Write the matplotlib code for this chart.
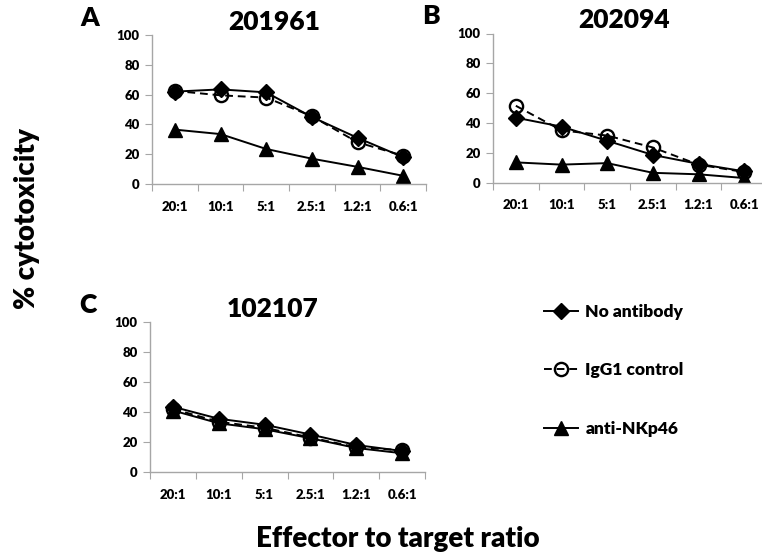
import numpy as np
import matplotlib
matplotlib.use("Agg")
import matplotlib.pyplot as plt
from matplotlib.lines import Line2D

plt.rcParams["font.family"] = ["Lato", "DejaVu Sans"]
plt.rcParams["font.weight"] = "heavy"

ratios = ["20:1", "10:1", "5:1", "2.5:1", "1.2:1", "0.6:1"]

# % cytotoxicity per donor
a_no_ab = [62, 63.5, 61.5, 45, 31, 18]
a_igg1 = [62.5, 59.5, 58, 45.5, 28, 19]
a_nkp46 = [36.5, 33.5, 23.5, 17, 11.5, 5.5]

b_no_ab = [43.5, 37.5, 28, 18.5, 12.5, 7.5]
b_igg1 = [51.5, 35, 31.5, 23.5, 12, 7]
b_nkp46 = [13.5, 12, 13, 6.5, 5.5, 3]

c_no_ab = [43.5, 35.5, 31.5, 25, 18, 14]
c_igg1 = [42, 33.5, 29.5, 23, 16.5, 14.5]
c_nkp46 = [41, 32.5, 28.5, 22.5, 16, 12.5]

# letter, title, series, axes box in pixels, title centre x
panels = [
    ("A", "201961", a_no_ab, a_igg1, a_nkp46, [152, 35, 426, 184], 274),
    ("B", "202094", b_no_ab, b_igg1, b_nkp46, [493, 33.5, 767, 182.5], 624),
    ("C", "102107", c_no_ab, c_igg1, c_nkp46, [150, 322, 425, 472], 273),
]

W, H = 762, 555
fig = plt.figure(figsize=(W / 100, H / 100), dpi=100)
spine_col = "#a6a6a6"
x = np.arange(len(ratios))

for letter, title, no_ab, igg1, nkp46, box, tx in panels:
    x0, y0, x1, y1 = box
    ax = fig.add_axes([x0 / W, 1 - y1 / H, (x1 - x0) / W, (y1 - y0) / H])
    ax.plot(x, igg1, color="black", lw=1.4, ls=(0, (4, 2.5)), marker="o", ms=9.5,
            mfc="none", mec="black", mew=1.7)
    ax.plot(x, no_ab, color="black", lw=1.4, marker="D", ms=8, mfc="black", mec="black")
    ax.plot(x, nkp46, color="black", lw=1.4, marker="^", ms=10.5, mfc="black", mec="black")
    ax.set_xlim(-0.5, 5.5)
    ax.set_ylim(0, 100)
    ax.set_yticks(range(0, 101, 20))
    ax.set_xticks(np.arange(-0.5, 6, 1))
    ax.set_xticklabels([])
    ax.set_xticks(x, minor=True)
    ax.set_xticklabels(ratios, minor=True)
    ax.tick_params(axis="x", which="major", length=5, color=spine_col, direction="out")
    ax.tick_params(axis="x", which="minor", length=0, pad=12, labelsize=9.5)
    ax.tick_params(axis="y", length=5, color=spine_col, labelsize=9.5, pad=4)
    for s in ["top", "right"]:
        ax.spines[s].set_visible(False)
    for s in ["left", "bottom"]:
        ax.spines[s].set_color(spine_col)
        ax.spines[s].set_linewidth(1)
    ax.patch.set_alpha(0)
    fig.text(tx / W, 1 - (y0 - 13) / H, title, ha="center", va="center",
             fontsize=19, fontweight="heavy")
    fig.text(x0 / W - 0.082, 1 - (y0 - 17) / H, letter, ha="center", va="center",
             fontsize=19, fontweight="heavy")

handles = [
    Line2D([], [], color="black", lw=1.4, marker="D", ms=8, mfc="black"),
    Line2D([], [], color="black", lw=1.4, ls=(0, (4, 2.5)), marker="o", ms=9.5, mfc="none", mew=1.7),
    Line2D([], [], color="black", lw=1.4, marker="^", ms=10.5, mfc="black"),
]
labels = ["No antibody", "IgG1 control", "anti-NKp46"]
fig.legend(handles, labels, loc="upper left", bbox_to_anchor=(528 / W, 1 - 288 / H),
           frameon=False, handlelength=2.0, handletextpad=0.4,
           labelspacing=2.45, prop={"weight": "heavy", "size": 12.5})

fig.text(27 / W, 1 - 219 / H, "% cytotoxicity", rotation=90, ha="center", va="center",
         fontsize=20, fontweight="heavy")
fig.text(398 / W, 1 - 539 / H, "Effector to target ratio", ha="center", va="center",
         fontsize=20, fontweight="heavy")

fig.savefig("out.png", dpi=100)
